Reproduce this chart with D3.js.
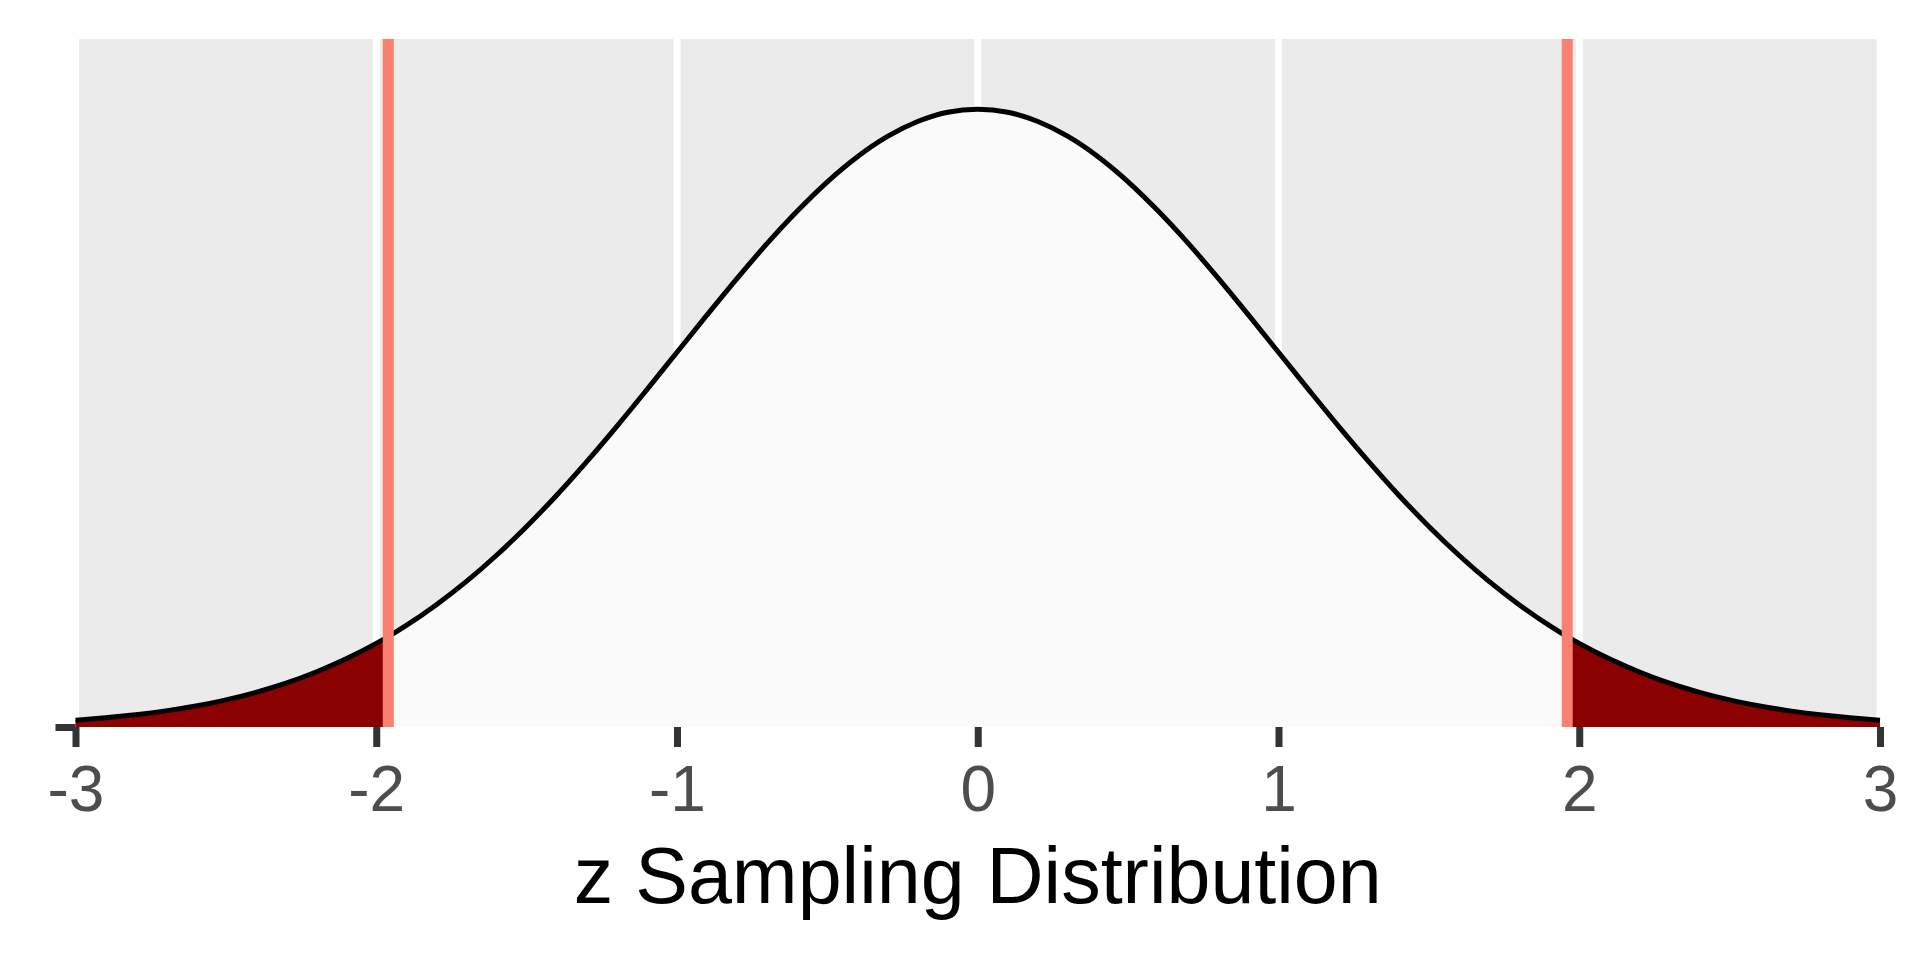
<!DOCTYPE html>
<html>
<head>
<meta charset="utf-8">
<script src="https://cdn.jsdelivr.net/npm/d3@7"></script>
<style>
  html, body { margin: 0; padding: 0; background: #ffffff; }
  svg { display: block; }
</style>
</head>
<body>
<svg id="chart" width="1920" height="960"></svg>
<script>
// ---- data ----
const xTicks = [-3, -2, -1, 0, 1, 2, 3];
const criticalValues = [-1.96, 1.96];
const xTitle = "z Sampling Distribution";
// density curve
const curveX = [-3.0, -2.9, -2.8, -2.7, -2.6, -2.5, -2.4, -2.3, -2.2, -2.1, -2.0, -1.96, -1.9, -1.8, -1.7, -1.6,
                -1.5, -1.4, -1.3, -1.2, -1.1, -1.0, -0.9, -0.8, -0.7, -0.6, -0.5, -0.4, -0.3, -0.2, -0.1, 0.0,
                0.1, 0.2, 0.3, 0.4, 0.5, 0.6, 0.7, 0.8, 0.9, 1.0, 1.1, 1.2, 1.3, 1.4, 1.5,
                1.6, 1.7, 1.8, 1.9, 1.96, 2.0, 2.1, 2.2, 2.3, 2.4, 2.5, 2.6, 2.7, 2.8, 2.9, 3.0];
const curveY = [0.0044, 0.0060, 0.0079, 0.0104, 0.0136, 0.0175, 0.0224, 0.0283, 0.0355, 0.0440, 0.0540, 0.0584, 0.0656, 0.0790, 0.0940, 0.1109,
                0.1295, 0.1497, 0.1714, 0.1942, 0.2179, 0.2420, 0.2661, 0.2897, 0.3123, 0.3332, 0.3521, 0.3683, 0.3814, 0.3910, 0.3970, 0.3989,
                0.3970, 0.3910, 0.3814, 0.3683, 0.3521, 0.3332, 0.3123, 0.2897, 0.2661, 0.2420, 0.2179, 0.1942, 0.1714, 0.1497, 0.1295,
                0.1109, 0.0940, 0.0790, 0.0656, 0.0584, 0.0540, 0.0440, 0.0355, 0.0283, 0.0224, 0.0175, 0.0136, 0.0104, 0.0079, 0.0060, 0.0044];
const yDomain = [0, 0.4443];

// ---- layout ----
const panel = { left: 75.5, right: 1880, top: 39, bottom: 727 };
const svg = d3.select("#chart");

const x = d3.scaleLinear().domain([-3, 3]).range([panel.left, panel.right]);
const y = d3.scaleLinear().domain(yDomain).range([panel.bottom, panel.top]);

const pts = curveX.map((v, i) => ({ x: v, y: curveY[i] }));

// panel background
svg.append("rect")
  .attr("x", panel.left).attr("y", panel.top)
  .attr("width", panel.right - panel.left).attr("height", panel.bottom - panel.top)
  .attr("fill", "#EBEBEB");

// grid lines
svg.append("g").selectAll("line").data(xTicks).join("line")
  .attr("x1", d => x(d)).attr("x2", d => x(d))
  .attr("y1", panel.top).attr("y2", panel.bottom)
  .attr("stroke", "#ffffff").attr("stroke-width", 7);

const curveType = d3.curveMonotoneX;
const area = d3.area().x(d => x(d.x)).y0(y(0)).y1(d => y(d.y)).curve(curveType);
const line = d3.line().x(d => x(d.x)).y(d => y(d.y)).curve(curveType);

const lo = criticalValues[0], hi = criticalValues[1];
// middle region
svg.append("path").datum(pts.filter(d => d.x >= lo && d.x <= hi))
  .attr("d", area).attr("fill", "#FAFAFA");
// tails
svg.append("path").datum(pts.filter(d => d.x <= lo))
  .attr("d", area).attr("fill", "#8B0000");
svg.append("path").datum(pts.filter(d => d.x >= hi))
  .attr("d", area).attr("fill", "#8B0000");

// density curve
svg.append("path").datum(pts)
  .attr("d", line).attr("fill", "none")
  .attr("stroke", "#000000").attr("stroke-width", 5)
  .attr("stroke-linejoin", "round");

// critical value lines
svg.append("g").selectAll("line").data(criticalValues).join("line")
  .attr("x1", d => x(d)).attr("x2", d => x(d))
  .attr("y1", panel.top).attr("y2", panel.bottom)
  .attr("stroke", "#FA8072").attr("stroke-width", 11);

// x axis
const xAxis = d3.axisBottom(x).tickValues(xTicks).tickSize(20).tickPadding(19)
  .tickFormat(d3.format("d"));
const gx = svg.append("g").attr("transform", `translate(0,${panel.bottom})`).call(xAxis);
gx.select(".domain").remove();
gx.selectAll(".tick line").attr("stroke", "#333333").attr("stroke-width", 7);
gx.selectAll(".tick text")
  .attr("fill", "#4D4D4D")
  .style("font-family", "'Liberation Sans', Arial, sans-serif")
  .style("font-size", "64px")
  .text(d => d < 0 ? "-" + Math.abs(d) : String(d));

// y axis (single tick at 0, no labels)
const yAxis = d3.axisLeft(y).tickValues([0]).tickSize(20).tickFormat("");
const gy = svg.append("g").attr("transform", `translate(${panel.left},0)`).call(yAxis);
gy.select(".domain").remove();
gy.selectAll(".tick line").attr("stroke", "#333333").attr("stroke-width", 7);

// x title
svg.append("text")
  .attr("x", (panel.left + panel.right) / 2).attr("y", 903)
  .attr("text-anchor", "middle")
  .attr("fill", "#000000")
  .style("font-family", "'Liberation Sans', Arial, sans-serif")
  .style("font-size", "79px")
  .text(xTitle);
</script>
</body>
</html>
